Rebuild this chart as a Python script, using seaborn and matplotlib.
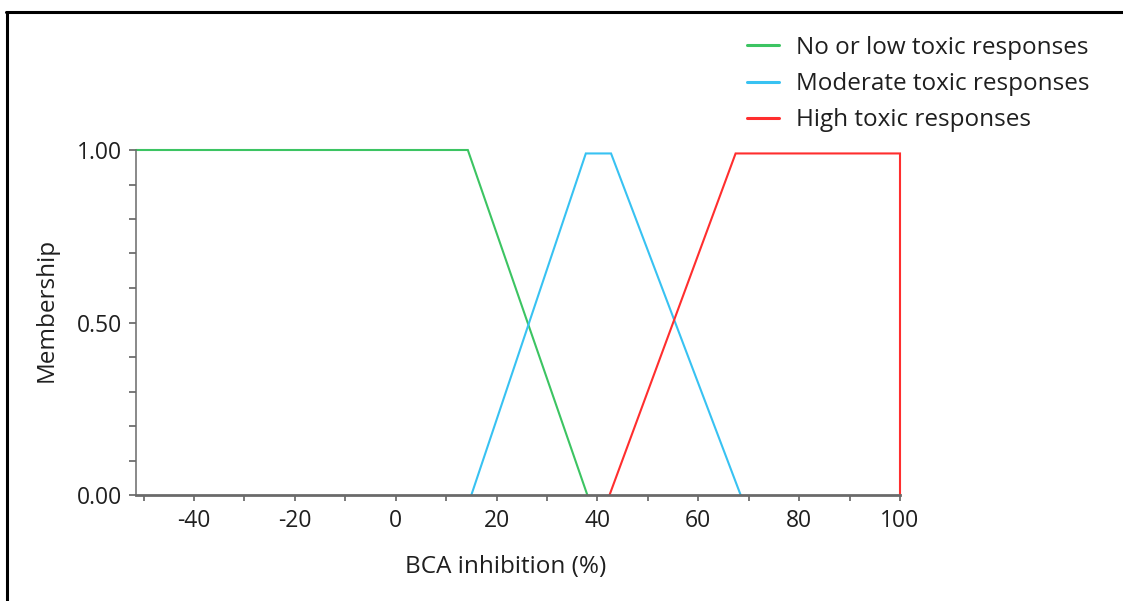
import matplotlib
matplotlib.use("Agg")
import matplotlib.pyplot as plt
import seaborn as sns
import pandas as pd
from matplotlib.lines import Line2D
from matplotlib.ticker import MultipleLocator, FixedLocator

sns.set_theme(style="white")
plt.rcParams['font.family'] = ['Open Sans', 'DejaVu Sans']

# Fuzzy membership functions for BCA inhibition (%)
series_names = ["No or low toxic responses",
                "Moderate toxic responses",
                "High toxic responses"]
low_x = [-51.5, 14.3, 38.0]
low_y = [1.0, 1.0, 0.0]
mod_x = [15.0, 37.7, 42.7, 68.4]
mod_y = [0.0, 0.99, 0.99, 0.0]
high_x = [42.4, 67.4, 100.0, 100.0]
high_y = [0.0, 0.99, 0.99, 0.0]

x_ticks = [-40, -20, 0, 20, 40, 60, 80, 100]
y_ticks = [0.0, 0.5, 1.0]
y_tick_labels = ["0.00", "0.50", "1.00"]

colors = ["#3cc462", "#38c2f2", "#ff2e2e"]
text_color = "#1f1f1f"
axis_color = "#6a6a6a"
FS_TICK = 16.5
FS_LABEL = 17.5

frames = []
for name, xs, ys in zip(series_names, [low_x, mod_x, high_x], [low_y, mod_y, high_y]):
    frames.append(pd.DataFrame({"x": xs, "y": ys, "series": name,
                                "order": range(len(xs))}))
df = pd.concat(frames, ignore_index=True)

W, H = 1123, 601
fig = plt.figure(figsize=(W / 100, H / 100), dpi=100)
ax = fig.add_axes([136 / W, 106 / H, 764 / W, 345 / H])

sns.lineplot(data=df, x="x", y="y", hue="series", hue_order=series_names,
             palette=colors, sort=False, estimator=None, linewidth=1.5,
             ax=ax, legend=False)
for ln in ax.lines:
    ln.set_clip_on(False)
    ln.set_solid_joinstyle("miter")

ax.set_xlim(-51.5, 100)
ax.set_ylim(0, 1)

ax.xaxis.set_major_locator(FixedLocator(x_ticks))
ax.xaxis.set_minor_locator(MultipleLocator(10))
ax.yaxis.set_major_locator(FixedLocator(y_ticks))
ax.yaxis.set_minor_locator(MultipleLocator(0.1))
ax.set_yticklabels(y_tick_labels)
ax.set_xticklabels([str(t) for t in x_ticks])

for side in ["top", "right"]:
    ax.spines[side].set_visible(False)
ax.spines["left"].set_color(axis_color)
ax.spines["left"].set_linewidth(1.1)
ax.spines["bottom"].set_color(axis_color)
ax.spines["bottom"].set_linewidth(2.0)

ax.tick_params(axis="both", which="both", direction="out", color="#555555",
               width=1.1, labelsize=FS_TICK, labelcolor=text_color,
               bottom=True, left=True)
ax.tick_params(axis="y", which="both", length=5, pad=5)
ax.tick_params(axis="x", which="both", length=4, pad=6)

ax.set_xlabel("BCA inhibition (%)", fontsize=FS_LABEL, color=text_color)
ax.set_ylabel("Membership", fontsize=FS_LABEL, color=text_color)
ax.xaxis.set_label_coords(0.484, -0.21)
ax.xaxis.label.set_verticalalignment("center")
ax.yaxis.set_label_coords(-0.1165, 0.536)
ax.yaxis.label.set_verticalalignment("center")

handles = [Line2D([0], [0], color=c, lw=2.2) for c in colors]
ax.legend(handles, series_names, loc="upper left",
          bbox_to_anchor=(747 / W, 1 - 36 / H), bbox_transform=fig.transFigure,
          frameon=False, fontsize=FS_LABEL, handlelength=1.3, handletextpad=0.7,
          labelspacing=0.5, borderpad=0, borderaxespad=0,
          labelcolor=text_color)

# page frame: left and top rules
fig.add_artist(Line2D([6.5 / W, 6.5 / W], [0, 1 - 12 / H], color="black",
                      lw=2.2, transform=fig.transFigure))
fig.add_artist(Line2D([5.5 / W, 1], [1 - 12 / H, 1 - 12 / H], color="black",
                      lw=2.2, transform=fig.transFigure))

fig.savefig("out.png", dpi=100, facecolor="white")
